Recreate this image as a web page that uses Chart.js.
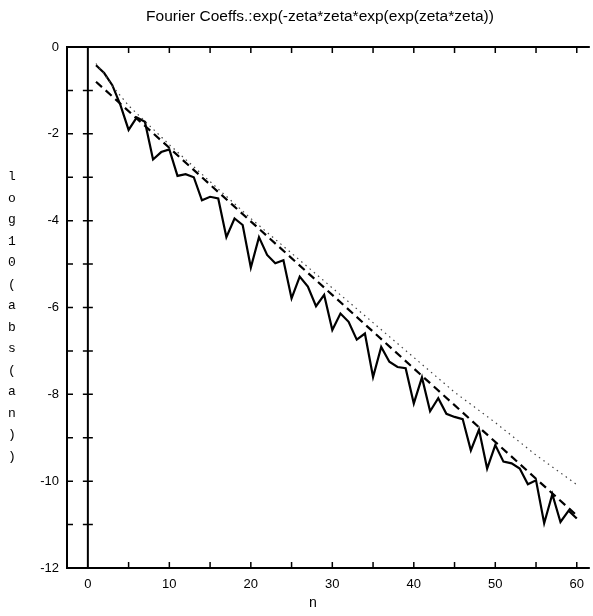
<!DOCTYPE html>
<html><head><meta charset="utf-8">
<script src="https://cdn.jsdelivr.net/npm/chart.js@4.4.1/dist/chart.umd.min.js"></script>
<style>html,body{margin:0;padding:0;background:#fff}canvas{display:block}</style>
</head><body>
<canvas id="c" width="593" height="616"></canvas>
<script>
const titleText = "Fourier Coeffs.:exp(-zeta*zeta*exp(exp(zeta*zeta))";
const yLabelText = "log10(abs(an))";
const xLabelText = "n";

const nValues = [1,2,3,4,5,6,7,8,9,10,11,12,13,14,15,16,17,18,19,20,21,22,23,24,25,26,27,28,29,30,
                 31,32,33,34,35,36,37,38,39,40,41,42,43,44,45,46,47,48,49,50,51,52,53,54,55,56,57,58,59,60];
const coeffValues = [-0.42,-0.60,-0.88,-1.34,-1.91,-1.62,-1.72,-2.59,-2.42,-2.36,
                     -2.97,-2.93,-3.00,-3.53,-3.45,-3.49,-4.38,-3.95,-4.10,-5.08,
                     -4.38,-4.79,-4.98,-4.91,-5.79,-5.29,-5.52,-5.97,-5.71,-6.52,
                     -6.14,-6.33,-6.74,-6.60,-7.60,-6.91,-7.25,-7.37,-7.40,-8.21,
                     -7.61,-8.39,-8.09,-8.45,-8.52,-8.57,-9.29,-8.81,-9.71,-9.17,
                     -9.55,-9.59,-9.71,-10.07,-9.98,-10.97,-10.30,-10.94,-10.68,-10.86];
const dashedN = [1, 60];
const dashedValues = [-0.80, -10.79];
const dottedN = [1, 2, 3, 5, 10, 15, 20, 25, 30, 38, 45, 50, 55, 60];
const dottedValues = [-0.38, -0.62, -0.90, -1.35, -2.25, -3.10, -3.95, -4.75, -5.55, -6.83, -7.95, -8.65, -9.40, -10.08];

const xTickValues = [0, 10, 20, 30, 40, 50, 60];
const xFiveTicks = [5, 10, 15, 20, 25, 30, 35, 40, 45, 50, 55, 60];
const yTickValues = [0, -2, -4, -6, -8, -10, -12];
const yUnitTicks = [-1, -2, -3, -4, -5, -6, -7, -8, -9, -10, -11];

const toXY = (xs, ys) => xs.map((v, i) => ({x: v, y: ys[i]}));

const framePlugin = {
  id: 'frame',
  afterDatasetsDraw(chart) {
    const {ctx, chartArea: a, scales: {x, y}} = chart;
    ctx.save();
    ctx.strokeStyle = '#000';
    ctx.lineWidth = 2;
    ctx.beginPath();
    ctx.moveTo(a.right, a.top); ctx.lineTo(a.left, a.top);
    ctx.lineTo(a.left, a.bottom); ctx.lineTo(a.right, a.bottom);
    ctx.stroke();
    const x0 = x.getPixelForValue(0);
    ctx.beginPath(); ctx.moveTo(x0, a.top); ctx.lineTo(x0, a.bottom); ctx.stroke();
    ctx.lineWidth = 1.5;
    ctx.beginPath();
    yUnitTicks.forEach(v => {
      const py = y.getPixelForValue(v);
      ctx.moveTo(a.left, py); ctx.lineTo(a.left + 6, py);
      ctx.moveTo(x0 - 5, py); ctx.lineTo(x0 + 5, py);
    });
    xFiveTicks.forEach(v => {
      const px = x.getPixelForValue(v);
      ctx.moveTo(px, a.top); ctx.lineTo(px, a.top + 6);
      ctx.moveTo(px, a.bottom); ctx.lineTo(px, a.bottom - 6);
    });
    ctx.stroke();
    ctx.restore();
  },
  afterDraw(chart) {
    const {ctx} = chart;
    ctx.save();
    ctx.fillStyle = '#000';
    ctx.textAlign = 'center';
    ctx.textBaseline = 'middle';
    ctx.font = '15.5px "Liberation Sans", Arial, sans-serif';
    ctx.fillText(titleText, 320, 17);
    ctx.font = '13px "Liberation Mono", monospace';
    const chars = yLabelText.split('');
    chars.forEach((c, i) => ctx.fillText(c, 12, 177 + i * 21.5));
    ctx.font = '14px "Liberation Mono", monospace';
    ctx.fillText(xLabelText, 313, 603);
    ctx.restore();
  }
};

new Chart(document.getElementById('c'), {
  type: 'line',
  data: {
    datasets: [
      {data: toXY(dottedN, dottedValues), borderColor: '#444', borderWidth: 1.2, borderDash: [1.5, 4], pointRadius: 0, tension: 0},
      {data: toXY(dashedN, dashedValues), borderColor: '#000', borderWidth: 2.2, borderDash: [8, 5], pointRadius: 0, tension: 0},
      {data: toXY(nValues, coeffValues), borderColor: '#000', borderWidth: 2.2, pointRadius: 0, tension: 0}
    ]
  },
  options: {
    responsive: false,
    animation: false,
    devicePixelRatio: 1,
    layout: {padding: {top: 47, left: 0, right: 0, bottom: 0}},
    plugins: {legend: {display: false}, tooltip: {enabled: false}, title: {display: false}},
    scales: {
      x: {
        type: 'linear', min: -2.56, max: 61.6,
        grid: {display: false, drawTicks: false}, border: {display: false},
        afterBuildTicks: s => { s.ticks = xTickValues.map(v => ({value: v})); },
        afterFit: s => { s.height = 48; },
        ticks: {color: '#000', padding: 9, maxRotation: 0, autoSkip: false,
                font: {family: '"Liberation Sans", Arial, sans-serif', size: 13},
                callback: v => String(v)}
      },
      y: {
        type: 'linear', min: -12, max: 0,
        grid: {display: false, drawTicks: false}, border: {display: false},
        afterBuildTicks: s => { s.ticks = yTickValues.map(v => ({value: v})); },
        afterFit: s => { s.width = 67; },
        ticks: {color: '#000', padding: 8, autoSkip: false,
                font: {family: '"Liberation Sans", Arial, sans-serif', size: 13},
                callback: v => String(v)}
      }
    }
  },
  plugins: [framePlugin]
});
</script>
</body></html>
